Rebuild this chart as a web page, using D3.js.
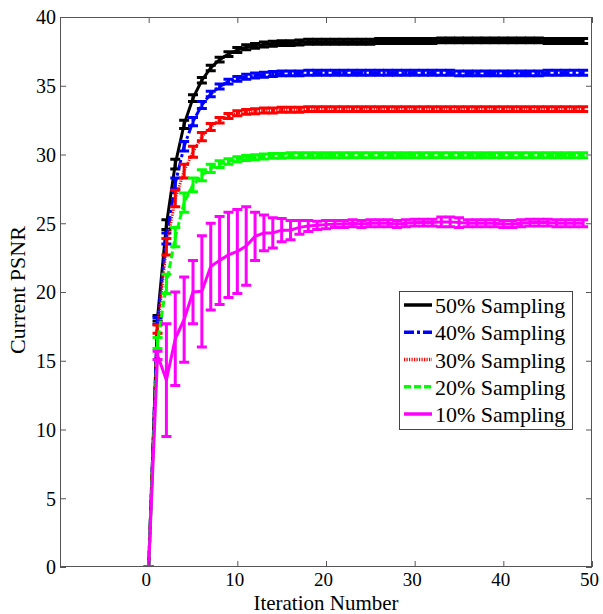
<!DOCTYPE html>
<html><head><meta charset="utf-8">
<script src="https://cdn.jsdelivr.net/npm/d3@7"></script>
<style>
html,body{margin:0;padding:0;background:#fff;}
svg text{font-family:"Liberation Serif","Times New Roman",serif;fill:#000;}
</style></head>
<body><svg id="c" width="603" height="614"></svg>
<script>
const iterations = d3.range(0, 50);
const xTicks = [0, 10, 20, 30, 40, 50];
const yTicks = [0, 5, 10, 15, 20, 25, 30, 35, 40];
const seriesNames = ["50% Sampling", "40% Sampling", "30% Sampling", "20% Sampling", "10% Sampling"];
const seriesColors = ["#000000", "#0000ff", "#ff0000", "#00ff00", "#ff00ff"];
const seriesDash = [null, "10,3,3,3", "1.2,1.3", "7,3", null];

const psnr50 = [0, 18.1, 24.9, 29.3, 32.2, 34.1, 35.4, 36.3, 36.9, 37.3,
  37.6, 37.8, 37.9, 38.0, 38.05, 38.1, 38.1, 38.15, 38.2, 38.2,
  38.2, 38.2, 38.2, 38.2, 38.2, 38.2, 38.25, 38.25, 38.25, 38.25,
  38.25, 38.25, 38.25, 38.3, 38.3, 38.3, 38.3, 38.3, 38.3, 38.3,
  38.3, 38.3, 38.3, 38.3, 38.3, 38.25, 38.25, 38.25, 38.25, 38.25];
const err50 = [0, 0.2, 0.35, 0.35, 0.3, 0.25, 0.2, 0.2, 0.18, 0.18,
  0.18, 0.18, 0.18, 0.18, 0.18, 0.18, 0.18, 0.18, 0.18, 0.18,
  0.18, 0.18, 0.18, 0.18, 0.18, 0.18, 0.18, 0.18, 0.18, 0.18,
  0.18, 0.18, 0.18, 0.18, 0.18, 0.18, 0.18, 0.18, 0.18, 0.18,
  0.18, 0.18, 0.18, 0.18, 0.18, 0.18, 0.18, 0.18, 0.18, 0.18];

const psnr40 = [0, 17.9, 23.9, 27.9, 30.6, 32.4, 33.6, 34.4, 34.95, 35.3,
  35.5, 35.65, 35.75, 35.8, 35.85, 35.9, 35.9, 35.9, 35.95, 35.95,
  35.95, 35.95, 35.95, 35.95, 35.95, 35.95, 35.95, 35.95, 35.95, 35.95,
  35.95, 35.95, 35.95, 35.95, 35.95, 35.9, 35.9, 35.9, 35.9, 35.9,
  35.9, 35.9, 35.9, 35.9, 35.9, 35.95, 35.95, 35.95, 35.95, 35.95];
const err40 = [0, 0.25, 0.4, 0.4, 0.35, 0.3, 0.25, 0.2, 0.18, 0.18,
  0.18, 0.18, 0.18, 0.18, 0.18, 0.18, 0.18, 0.18, 0.18, 0.18,
  0.18, 0.18, 0.18, 0.18, 0.18, 0.18, 0.18, 0.18, 0.18, 0.18,
  0.18, 0.18, 0.18, 0.18, 0.18, 0.18, 0.18, 0.18, 0.18, 0.18,
  0.18, 0.18, 0.18, 0.18, 0.18, 0.18, 0.18, 0.18, 0.18, 0.18];

const psnr30 = [0, 17.3, 23.3, 26.8, 28.8, 30.2, 31.3, 32.0, 32.5, 32.8,
  33.0, 33.1, 33.15, 33.2, 33.2, 33.25, 33.25, 33.25, 33.3, 33.3,
  33.3, 33.3, 33.3, 33.3, 33.3, 33.3, 33.3, 33.3, 33.3, 33.3,
  33.3, 33.3, 33.3, 33.3, 33.3, 33.3, 33.3, 33.3, 33.3, 33.3,
  33.3, 33.3, 33.3, 33.3, 33.3, 33.3, 33.3, 33.3, 33.3, 33.3];
const err30 = [0, 0.3, 0.6, 0.6, 0.5, 0.4, 0.3, 0.25, 0.2, 0.18,
  0.18, 0.18, 0.18, 0.18, 0.18, 0.18, 0.18, 0.18, 0.18, 0.18,
  0.18, 0.18, 0.18, 0.18, 0.18, 0.18, 0.18, 0.18, 0.18, 0.18,
  0.18, 0.18, 0.18, 0.18, 0.18, 0.18, 0.18, 0.18, 0.18, 0.18,
  0.18, 0.18, 0.18, 0.18, 0.18, 0.18, 0.18, 0.18, 0.18, 0.18];

const psnr20 = [0, 16.3, 20.6, 24.0, 26.5, 27.8, 28.5, 29.0, 29.3, 29.5,
  29.65, 29.75, 29.8, 29.85, 29.9, 29.9, 29.95, 29.95, 29.95, 29.95,
  29.95, 29.95, 29.95, 29.95, 29.95, 29.95, 29.95, 29.95, 29.95, 29.95,
  29.95, 29.95, 29.95, 29.95, 29.95, 29.95, 29.95, 29.95, 29.95, 29.95,
  29.95, 29.95, 29.95, 29.95, 29.95, 29.95, 29.95, 29.95, 29.95, 29.95];
const err20 = [0, 0.4, 0.7, 0.7, 0.7, 0.5, 0.4, 0.3, 0.25, 0.2,
  0.18, 0.18, 0.18, 0.18, 0.18, 0.18, 0.18, 0.18, 0.18, 0.18,
  0.18, 0.18, 0.18, 0.18, 0.18, 0.18, 0.18, 0.18, 0.18, 0.18,
  0.18, 0.18, 0.18, 0.18, 0.18, 0.18, 0.18, 0.18, 0.18, 0.18,
  0.18, 0.18, 0.18, 0.18, 0.18, 0.18, 0.18, 0.18, 0.18, 0.18];

const psnr10 = [0, 15.4, 13.6, 16.6, 18.0, 20.0, 20.05, 21.85, 22.3, 22.7,
  22.95, 23.35, 24.05, 24.3, 24.3, 24.5, 24.5, 24.7, 24.8, 24.85,
  24.9, 24.95, 24.95, 25.0, 24.95, 25.0, 25.0, 25.0, 24.95, 25.0,
  25.05, 25.05, 25.05, 25.1, 25.1, 25.05, 25.0, 25.0, 25.0, 25.0,
  24.95, 24.95, 25.0, 25.05, 25.05, 25.05, 25.0, 25.0, 25.0, 25.0];
const err10 = [0, 0.3, 4.1, 3.4, 3.1, 2.3, 4.05, 3.15, 3.2, 3.1,
  3.05, 2.85, 1.75, 1.3, 1.1, 0.85, 0.7, 0.5, 0.4, 0.3,
  0.3, 0.25, 0.25, 0.25, 0.25, 0.25, 0.25, 0.25, 0.25, 0.25,
  0.25, 0.25, 0.25, 0.35, 0.35, 0.35, 0.25, 0.25, 0.25, 0.25,
  0.25, 0.25, 0.25, 0.25, 0.25, 0.25, 0.25, 0.25, 0.25, 0.25];

const seriesValues = [psnr50, psnr40, psnr30, psnr20, psnr10];
const seriesErrors = [err50, err40, err30, err20, err10];

const W = 603, H = 614;
const L = 60, R = 592, T = 17, B = 567;
const svg = d3.select("#c");
const x = d3.scaleLinear().domain([-10, 50]).range([L, R]);
const y = d3.scaleLinear().domain([0, 40]).range([B, T]);
const axisColor = "#555";

svg.append("rect").attr("x", 0).attr("y", 0).attr("width", W).attr("height", H).attr("fill", "#fff");

svg.append("defs").append("clipPath").attr("id", "clip")
  .append("rect").attr("x", L).attr("y", T).attr("width", R - L).attr("height", B - T);

const plot = svg.append("g").attr("clip-path", "url(#clip)");
const capW = 5;
seriesValues.forEach((vals, s) => {
  const g = plot.append("g");
  const errs = seriesErrors[s];
  const line = d3.line().x((d, i) => x(iterations[i])).y(d => y(d));
  const p = g.append("path").datum(vals).attr("d", line)
    .attr("fill", "none").attr("stroke", seriesColors[s]).attr("stroke-width", 3)
    .attr("stroke-linejoin", "round");
  if (seriesDash[s]) p.attr("stroke-dasharray", seriesDash[s]);
  g.selectAll("path.eb").data(vals).enter().append("path").attr("class", "eb")
    .attr("d", (d, i) => {
      const cx = x(iterations[i]), y0 = y(d - errs[i]), y1 = y(d + errs[i]);
      return `M${cx},${y0}V${y1}M${cx - capW},${y0}H${cx + capW}M${cx - capW},${y1}H${cx + capW}`;
    })
    .attr("fill", "none").attr("stroke", seriesColors[s]).attr("stroke-width", 3);
});

// axes
const xAxisB = d3.axisBottom(x).tickValues(xTicks).tickSize(-6).tickFormat(d3.format("d"));
const xAxisT = d3.axisTop(x).tickValues(xTicks).tickSize(-6).tickFormat("");
const yAxisL = d3.axisLeft(y).tickValues(yTicks).tickSize(-6).tickFormat(d3.format("d"));
const yAxisR = d3.axisRight(y).tickValues(yTicks).tickSize(-6).tickFormat("");

function styleAxis(g) {
  g.select(".domain").remove();
  g.selectAll(".tick line").attr("stroke", axisColor).attr("stroke-width", 1);
  g.selectAll(".tick text").style("font-size", "20px").attr("fill", "#000");
}
svg.append("g").attr("transform", `translate(0,${B})`).call(xAxisB).call(styleAxis)
  .selectAll(".tick text").style("font-size", "19px").attr("x", -3).attr("y", 5.5).attr("dy", "0.71em");
svg.append("g").attr("transform", `translate(0,${T})`).call(xAxisT).call(styleAxis);
svg.append("g").attr("transform", `translate(${L},0)`).call(yAxisL).call(styleAxis)
  .selectAll(".tick text").attr("x", -4).attr("dy", "0.34em");
svg.append("g").attr("transform", `translate(${R},0)`).call(yAxisR).call(styleAxis);

svg.append("rect").attr("x", L + 0.5).attr("y", T + 0.5).attr("width", R - L - 1).attr("height", B - T - 1)
  .attr("fill", "none").attr("stroke", axisColor).attr("stroke-width", 1);

svg.append("text").attr("x", (L + R) / 2).attr("y", 609.5).attr("text-anchor", "middle")
  .style("font-size", "21px").text("Iteration Number");
svg.append("text").attr("transform", "translate(25,290) rotate(-90)").attr("text-anchor", "middle")
  .style("font-size", "22px").text("Current PSNR");

// legend
const lg = svg.append("g");
lg.append("rect").attr("x", 399.5).attr("y", 291.5).attr("width", 173).attr("height", 138)
  .attr("fill", "#fff").attr("stroke", "#444").attr("stroke-width", 1);
const rowY = d3.scaleLinear().domain([0, 4]).range([305, 414]);
seriesNames.forEach((name, s) => {
  const yy = rowY(s);
  const ln = lg.append("line").attr("x1", 404).attr("x2", 432).attr("y1", yy).attr("y2", yy)
    .attr("stroke", seriesColors[s]).attr("stroke-width", 3.5);
  if (seriesDash[s]) ln.attr("stroke-dasharray", seriesDash[s]);
  lg.append("text").attr("x", 435).attr("y", yy + 8).style("font-size", "22px").text(name);
});
</script>
</body></html>
